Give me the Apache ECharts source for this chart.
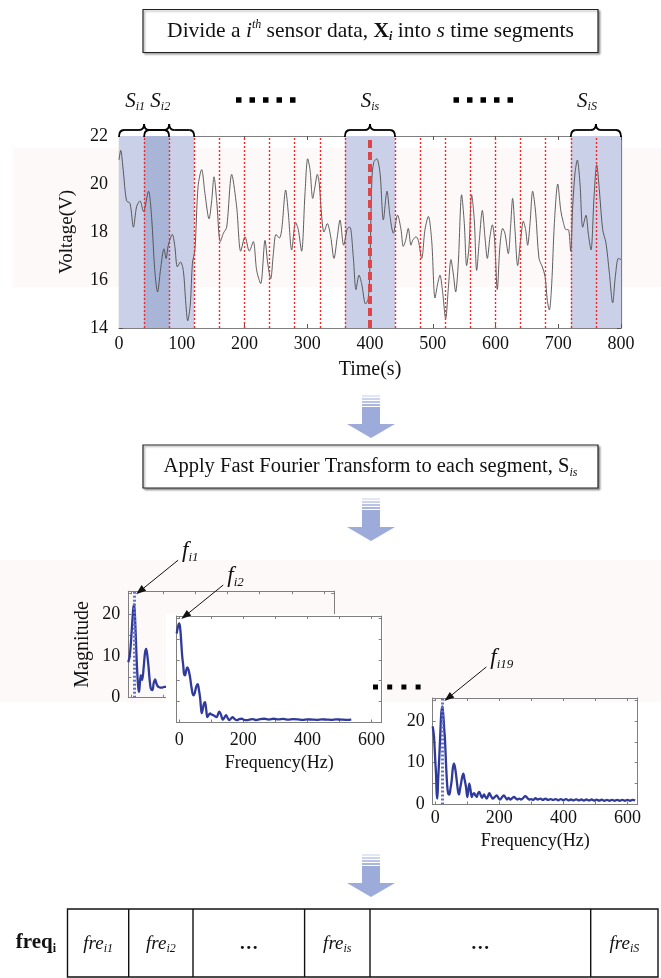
<!DOCTYPE html>
<html>
<head>
<meta charset="utf-8">
<script src="https://cdn.jsdelivr.net/npm/echarts@6/dist/echarts.min.js"></script>
<style>
  html, body { margin: 0; padding: 0; background: #ffffff; }
  #chart { width: 661px; height: 978px; }
</style>
</head>
<body>
<div id="chart"></div>
<script>
// ---- Sensor voltage trace: [time (s), voltage (V)] ----
const voltageTrace = [
  [0, 21.0], [2.7, 21.4], [7, 20.5], [12, 19.3], [17.5, 19.2], [23, 18.2], [28, 19.05], [33.5, 19.3],
  [39, 18.85], [47, 19.7], [52, 18.6], [57, 16.4], [61.5, 15.5], [66, 16.4], [71.7, 17.3], [75, 16.9],
  [78.6, 17.45], [85, 17.9], [89, 17.4], [93, 16.55], [98, 16.75], [102.5, 16.4], [106, 15.2], [109.5, 14.3],
  [113.7, 15.0], [117, 16.7], [121, 17.25], [126, 19.9], [131.7, 20.6], [137, 19.6], [143.5, 18.55], [147.7, 19.3],
  [151.4, 20.3], [155.7, 19.3], [161.5, 17.6], [166.4, 17.95], [171.6, 18.2], [179.6, 20.4], [187.5, 19.05], [194, 17.2],
  [200.8, 17.8], [207.7, 17.2], [214, 17.6], [219.4, 16.4], [225.8, 15.85], [232.7, 17.65], [237, 16.7], [241.7, 16.05],
  [246, 17.1], [250.2, 17.9], [255.5, 17.75], [259.3, 18.1], [265.6, 19.75], [269.8, 18.8], [275.2, 17.25], [281.5, 18.4],
  [285.7, 18.1], [291, 17.2], [296.4, 19.6], [300.7, 21.05], [304.4, 20.6], [308.7, 19.4], [312.4, 19.9], [316, 20.4],
  [319.2, 20.0], [323, 18.65], [326.7, 18.0], [332, 18.35], [337.4, 17.8], [342.6, 16.9], [347.9, 17.8], [352.2, 18.5],
  [358, 17.45], [364, 18.15], [368, 18.2], [373.4, 16.95], [377.7, 15.6], [382.5, 16.2], [386.7, 15.85], [393, 15.0],
  [397, 15.2], [399.5, 16.2], [403, 20.2], [406, 20.9], [410.7, 21.05], [416, 20.45], [421.3, 18.5], [427, 19.7],
  [431.9, 18.65], [437.2, 17.95], [444, 18.7], [449.4, 18.1], [453, 17.4], [456.8, 17.65], [461, 18.15], [465.3, 17.45],
  [468, 17.65], [473.3, 17.8], [477, 17.65], [482.4, 16.9], [487.6, 18.1], [493, 18.65], [498.3, 17.65], [503.6, 15.25],
  [507.9, 15.85], [511.5, 16.2], [515.3, 15.6], [520.6, 14.4], [524.8, 15.65], [529, 16.85], [532.8, 16.25], [536.5, 15.5],
  [540.7, 16.7], [546, 19.55], [550.3, 18.35], [554, 16.6], [557.8, 17.4], [562, 19.55], [566.2, 18.5], [570, 16.4],
  [574.2, 17.65], [579, 18.9], [583.3, 17.75], [587, 16.9], [591.2, 17.8], [595, 18.3], [598.5, 17.7], [602.9, 15.6],
  [607, 17.4], [611.4, 18.15], [615, 17.95], [620.4, 17.1], [624, 18.2], [627.3, 19.4], [631, 18.1], [635.3, 16.6],
  [640, 17.65], [644.3, 18.45], [648, 18.1], [651.2, 17.45], [655, 18.35], [659.2, 19.7], [664, 18.8], [669.3, 16.9],
  [674.6, 16.55], [679, 16.15], [682.6, 15.15], [685.8, 14.75], [689.6, 15.85], [693.8, 18.35], [699.2, 20.0], [704, 18.9],
  [708.1, 18.4], [712.4, 18.1], [716.1, 18.1], [719.8, 17.2], [723, 19.05], [726.7, 20.45], [730.4, 21.0], [734.7, 20.0],
  [739, 18.2], [744.2, 18.7], [748, 17.9], [752.2, 17.25], [757, 19.45], [761.3, 20.8], [765.5, 19.75], [770.8, 18.1],
  [776, 17.55], [781.4, 16.3], [786.7, 15.05], [791, 16.15], [795.8, 16.9], [800, 16.85]
];

// ---- Time segmentation ----
const segmentBoundaries = [40, 80, 120, 160, 200, 240, 280, 320, 360, 400, 440, 480, 520, 560, 600, 640, 680, 720, 760];
const focusBoundary = 400;
const highlightedSegments = [[0, 120], [360, 440], [720, 800]];
const overlapSegment = [40, 80];
const bracedSegments = [
  { range: [0, 80], sub: 'i1', align: 'right' },
  { range: [40, 120], sub: 'i2', align: 'right' },
  { range: [360, 440], sub: 'is', align: 'center' },
  { range: [720, 800], sub: 'iS', align: 'right' }
];

// ---- FFT magnitude spectra: [frequency (Hz), magnitude] ----
const spectrum1 = [
  [-8, 8.5], [-4, 9.8], [-1, 12], [3, 16.5], [7, 21], [10, 22.4], [13, 19], [17, 11], [20, 5.8], [23, 2.4],
  [25.5, 1.4], [28, 3.5], [31, 5.4], [35, 4.2], [40, 7.5], [44, 10.8], [47.5, 11.7], [51, 10.2], [55, 7.3],
  [58, 4.5], [62, 2.2], [67, 1.8], [71, 3.5], [75.5, 4.4], [79, 3.5], [83, 2.8], [88, 2.5], [96, 2.4],
  [104, 2.6], [112, 2.6]
];
const spectrum2 = [
  [-8, 21.3], [-5, 22.6], [-2, 23.5], [0, 23.7], [3, 22.5], [6, 19.5], [9, 16.0], [12.6, 13.5], [15, 11.6],
  [18, 11.3], [21.5, 12.4], [25, 13.2], [29, 12.6], [33.6, 10.9], [38, 8.5], [43.9, 6.5], [48, 7.0], [53, 8.6],
  [57.6, 9.2], [61, 8.0], [64.8, 6.1], [67.5, 3.8], [70, 2.2], [73, 3.0], [77, 4.5], [80.4, 4.9], [84, 3.2],
  [87.6, 1.3], [92, 1.8], [96, 2.2], [101, 1.9], [106.4, 1.75], [111, 1.5], [117, 1.3], [121, 2.0], [125, 2.6],
  [130, 1.9], [135.8, 0.7], [141, 1.2], [146, 1.75], [151, 1.1], [156, 0.55], [161, 0.9], [167, 1.3], [173, 0.8],
  [179.5, 0.55], [187, 0.8], [195, 0.9], [203, 0.6], [211, 0.55], [220, 0.7], [230, 0.8], [240, 0.6], [252, 0.8],
  [265, 0.9], [280, 0.7], [295, 0.9], [310, 0.75], [325, 0.85], [340, 0.7], [355, 0.8], [370, 0.75], [385, 0.65],
  [400, 0.75], [415, 0.7], [430, 0.65], [445, 0.75], [460, 0.7], [475, 0.65], [490, 0.75], [505, 0.7], [520, 0.65],
  [537, 0.7]
];
const spectrum19 = [
  [-8, 18.7], [-4, 16.3], [0, 10.5], [2.3, 7.4], [4.5, 2.5], [6.4, 1.4], [9, 6], [12.6, 11.4], [16, 17.5], [19, 22],
  [22, 23.5], [25, 21.5], [28, 18], [30.4, 15.5], [34, 9], [37.6, 4.2], [40.5, 2.6], [43.9, 2.4], [47.5, 3.8],
  [51.4, 5.8], [55, 8.8], [58.6, 9.8], [62.5, 8.5], [67, 5.8], [71, 3.2], [74.2, 2.4], [77, 3.6], [80.4, 5.0],
  [84, 6.6], [87.6, 7.4], [91, 6.2], [96, 4.2], [100, 1.8], [103, 3.2], [106.4, 5.0], [110, 3.6], [113.9, 1.8],
  [117, 2.4], [121, 2.7], [125, 2.2], [129.5, 1.8], [133, 2.6], [137.6, 3.0], [142, 2.2], [146, 1.6], [149, 2.0],
  [152.3, 2.4], [156, 1.9], [160.8, 1.4], [165, 2.1], [168.9, 2.7], [174, 2.0], [179.5, 1.4], [186, 1.8], [192, 2.2],
  [197, 1.6], [202, 1.2], [208, 1.7], [214, 2.2], [219, 1.7], [224, 1.2], [229, 1.6], [234, 1.2], [240, 1.5],
  [246, 1.8], [251, 1.5], [256, 1.2], [262, 1.4], [268, 1.2], [275, 1.6], [281, 2.0], [287, 1.6], [293, 1.2],
  [299, 1.3], [306, 1.1], [313, 1.5], [320, 1.2], [328, 1.4], [336, 1.1], [344, 1.4], [352, 1.1], [360, 1.3],
  [368, 1.1], [376, 1.3], [384, 1.0], [392, 1.3], [400, 1.0], [408, 1.3], [416, 1.0], [424, 1.2], [432, 1.0],
  [440, 1.25], [448, 1.0], [456, 1.2], [464, 0.95], [472, 1.2], [480, 1.0], [488, 1.2], [496, 0.95], [504, 1.15],
  [512, 0.95], [520, 1.15], [528, 0.9], [536, 1.1], [544, 0.9], [552, 1.1], [560, 0.9], [568, 1.1], [576, 0.9],
  [584, 1.1], [592, 0.9], [600, 1.1], [608, 0.9], [616, 1.1], [624, 1.0]
];
const spectrumLabels = ['i1', 'i2', 'i19'];
const peakFreqs = [10, 0, 22];
const freqRange = [-8, 632];
const freqLabelValues = [0, 200, 400, 600];
const freqTickValues = [0, 100, 200, 300, 400, 500, 600];
const magRange = [0, 25.5];
const magLabelValues = [0, 10, 20];
const magTickValues = [0, 5, 10, 15, 20, 25];

// ---- Output feature vector ----
const featureCells = [
  { base: 'fre', sub: 'i1' }, { base: 'fre', sub: 'i2' }, { dots: true },
  { base: 'fre', sub: 'is' }, { dots: true }, { base: 'fre', sub: 'iS' }
];

const SERIF = "'Liberation Serif', 'Times New Roman', Times, serif";
const AX = '#7f7f7f';
const INK = '#111111';

const chart = echarts.init(document.getElementById('chart'), null, { renderer: 'canvas', width: 661, height: 978 });

function timeAxes() {
  const line = { show: true, onZero: false, lineStyle: { color: AX, width: 1.2 } };
  const tick = { show: true, inside: true, length: 4, lineStyle: { color: '#555' } };
  return {
    x: [
      { type: 'value', gridIndex: 0, position: 'bottom', min: 0, max: 800, interval: 100,
        axisLine: line, axisTick: tick, splitLine: { show: false },
        axisLabel: { fontFamily: SERIF, fontSize: 18, color: INK, margin: 7 },
        name: 'Time(s)', nameLocation: 'middle', nameGap: 32,
        nameTextStyle: { fontFamily: SERIF, fontSize: 20, color: INK } },
      { type: 'value', gridIndex: 0, position: 'top', min: 0, max: 800, interval: 100,
        axisLine: line, axisTick: tick, splitLine: { show: false }, axisLabel: { show: false } }
    ],
    y: [
      { type: 'value', gridIndex: 0, position: 'left', min: 14, max: 22, interval: 2,
        axisLine: line, axisTick: tick, splitLine: { show: false },
        axisLabel: { fontFamily: SERIF, fontSize: 18, color: INK, margin: 11 },
        name: 'Voltage(V)', nameLocation: 'middle', nameGap: 42, nameRotate: 90,
        nameTextStyle: { fontFamily: SERIF, fontSize: 19, color: INK } },
      { type: 'value', gridIndex: 0, position: 'right', min: 14, max: 22, interval: 2,
        axisLine: line, axisTick: tick, splitLine: { show: false }, axisLabel: { show: false } }
    ]
  };
}

function spectrumAxes(gridIndex, cfg) {
  const line = { show: true, onZero: false, lineStyle: { color: AX, width: 1 } };
  const z = cfg.z || 0;
  const xBase = { type: 'value', gridIndex, min: freqRange[0], max: freqRange[1], z,
    axisLine: line, splitLine: { show: false },
    axisTick: { show: true, inside: true, length: 3, customValues: freqTickValues, lineStyle: { color: AX } } };
  const yBase = { type: 'value', gridIndex, min: magRange[0], max: magRange[1], z,
    axisLine: line, splitLine: { show: false },
    axisTick: { show: true, inside: true, length: 3, customValues: magTickValues, lineStyle: { color: AX } } };
  return {
    x: [
      Object.assign({}, xBase, { position: 'bottom',
        axisLabel: { show: cfg.xLabels, customValues: freqLabelValues, fontFamily: SERIF, fontSize: 18, color: INK, margin: cfg.xMargin },
        name: cfg.xLabels ? 'Frequency(Hz)' : '', nameLocation: 'middle', nameGap: cfg.xNameGap,
        nameTextStyle: { fontFamily: SERIF, fontSize: 18, color: INK } }),
      Object.assign({}, xBase, { position: 'top', axisLabel: { show: false } })
    ],
    y: [
      Object.assign({}, yBase, { position: 'left',
        axisLabel: { show: cfg.yLabels, customValues: magLabelValues, fontFamily: SERIF, fontSize: 18, color: INK, margin: 8 },
        name: cfg.yName || '', nameLocation: 'middle', nameGap: 36, nameRotate: 90,
        nameTextStyle: { fontFamily: SERIF, fontSize: 20, color: INK } }),
      Object.assign({}, yBase, { position: 'right', axisLabel: { show: false } })
    ]
  };
}

const tAx = timeAxes();
const s1Ax = spectrumAxes(1, { xLabels: false, yLabels: true, yName: 'Magnitude', xMargin: 6, xNameGap: 30 });
const s2Ax = spectrumAxes(2, { xLabels: true, yLabels: false, xMargin: 9, xNameGap: 32, z: 6 });
const s3Ax = spectrumAxes(3, { xLabels: true, yLabels: true, xMargin: 5, xNameGap: 28 });

function peakMarks(freq) {
  return {
    silent: true, symbol: ['none', 'none'], label: { show: false },
    lineStyle: { type: [2, 2], width: 1 },
    data: [
      { xAxis: freq - 3, lineStyle: { color: '#ff3b3b', type: [2, 2], width: 1 } },
      { xAxis: freq, lineStyle: { color: '#6475d6', type: [2, 2], width: 1 } },
      { xAxis: freq + 3, lineStyle: { color: '#ff3b3b', type: [2, 2], width: 1 } }
    ]
  };
}

function spectrumSeries(data, axisIndex, peak, z) {
  return {
    type: 'line', xAxisIndex: axisIndex, yAxisIndex: axisIndex, data, z,
    symbol: 'none', smooth: 0.35, silent: true,
    lineStyle: { color: '#2f3a9a', width: 2.3 },
    markLine: peakMarks(peak)
  };
}

const option = {
  animation: false,
  backgroundColor: '#ffffff',
  grid: [
    { left: 119, top: 136, width: 502, height: 192, outerBoundsMode: 'none' },
    { left: 128.3, top: 591.2, width: 206, height: 106.5, outerBoundsMode: 'none' },
    { left: 176.7, top: 616, width: 205, height: 106.5, outerBoundsMode: 'none' },
    { left: 432.7, top: 698, width: 205, height: 106.5, outerBoundsMode: 'none' }
  ],
  xAxis: [].concat(tAx.x, s1Ax.x, s2Ax.x, s3Ax.x),
  yAxis: [].concat(tAx.y, s1Ax.y, s2Ax.y, s3Ax.y),
  series: [
    { // shaded segments
      type: 'line', xAxisIndex: 0, yAxisIndex: 0, data: voltageTrace, z: 1, silent: true,
      symbol: 'none', lineStyle: { opacity: 0 },
      markArea: {
        silent: true, itemStyle: { color: '#c9d0e7' },
        data: highlightedSegments.map(r => [{ xAxis: r[0] }, { xAxis: r[1] }]).concat([
          [{ xAxis: overlapSegment[0], itemStyle: { color: '#a8b5d7' } }, { xAxis: overlapSegment[1] }]
        ])
      }
    },
    { // voltage trace
      type: 'line', xAxisIndex: 0, yAxisIndex: 0, data: voltageTrace, z: 2, silent: true,
      symbol: 'none', smooth: 0.3, lineStyle: { color: '#4d4d4d', width: 0.9 }
    },
    { // segment boundaries
      type: 'line', xAxisIndex: 0, yAxisIndex: 0, data: voltageTrace, z: 3, silent: true,
      symbol: 'none', lineStyle: { opacity: 0 },
      markLine: {
        silent: true, symbol: ['none', 'none'], label: { show: false },
        data: segmentBoundaries.map(v => v === focusBoundary
          ? { xAxis: v, lineStyle: { color: '#de4547', width: 4, type: [8, 4] } }
          : { xAxis: v, lineStyle: { color: '#ff2424', width: 1.4, type: [2, 2] } })
      }
    },
    spectrumSeries(spectrum1, 2, peakFreqs[0], 2),
    spectrumSeries(spectrum2, 4, peakFreqs[1], 7),
    spectrumSeries(spectrum19, 6, peakFreqs[2], 2)
  ]
};
chart.setOption(option);

// ---------- annotations ----------
const g = [];

// faint tinted bands behind the plots
g.push({ type: 'rect', z: -1, shape: { x: 13, y: 148, width: 648, height: 139 }, style: { fill: '#fdf9f9' } });
g.push({ type: 'rect', z: -1, shape: { x: 0, y: 560, width: 661, height: 142 }, style: { fill: '#fdf9f9' } });

// white panel of the second spectrum, laid over the first one
g.push({ type: 'rect', z: 5, shape: { x: 166, y: 614, width: 218, height: 160 }, style: { fill: '#ffffff' } });

function textBox(x, y, w, h) {
  return { type: 'rect', z: 10, shape: { x, y, width: w, height: h },
    style: { fill: '#ffffff', stroke: '#222', lineWidth: 1.2, shadowBlur: 2, shadowOffsetX: 1.5, shadowOffsetY: 1.5, shadowColor: 'rgba(0,0,0,0.35)' } };
}
function stepRich(size) {
  return {
    n: { fontFamily: SERIF, fontSize: size, fill: INK, color: INK, lineHeight: 24 },
    it: { fontFamily: SERIF, fontSize: size, fontStyle: 'italic', fill: INK, color: INK, lineHeight: 24 },
    b: { fontFamily: SERIF, fontSize: size, fontWeight: 'bold', fill: INK, color: INK, lineHeight: 24 },
    sup: { fontFamily: SERIF, fontSize: 12, fontStyle: 'italic', fill: INK, color: INK, lineHeight: 12, verticalAlign: 'top' },
    sub: { fontFamily: SERIF, fontSize: 12, fontStyle: 'italic', fill: INK, color: INK, lineHeight: 12, verticalAlign: 'bottom' },
    bsub: { fontFamily: SERIF, fontSize: 12, fontStyle: 'italic', fontWeight: 'bold', fill: INK, color: INK, lineHeight: 12, verticalAlign: 'bottom' }
  };
}
function richText(x, y, text, rich, align) {
  return { type: 'text', z: 11, x, y,
    style: { text, rich, align: align || 'center', verticalAlign: 'middle',
      textAlign: align || 'center', textVerticalAlign: 'middle' } };
}

// step boxes
g.push(textBox(143, 9.5, 455, 43));
g.push(richText(370.5, 31, '{n|Divide a }{it|i}{sup|th}{n| sensor data, }{b|X}{bsub|i}{n| into }{it|s}{n| time segments}', stepRich(21.5)));
g.push(textBox(143, 445, 455, 43));
g.push(richText(370.5, 466.5, '{n|Apply Fast Fourier Transform to each segment, S}{sub|is}', stepRich(20.5)));

// flow arrows
function flowArrow(cx, y0) {
  const els = [];
  const stripes = ['#e2e6f5', '#cdd3ee', '#bac3e7', '#aab5e0'];
  stripes.forEach((c, i) => els.push({ type: 'rect', z: 10, shape: { x: cx - 9, y: y0 + i * 3, width: 18, height: 2 }, style: { fill: c } }));
  els.push({ type: 'rect', z: 10, shape: { x: cx - 9, y: y0 + 12, width: 18, height: 17 }, style: { fill: '#9dabdb' } });
  els.push({ type: 'polygon', z: 10, shape: { points: [[cx - 24, y0 + 29], [cx + 24, y0 + 29], [cx, y0 + 43]] }, style: { fill: '#9dabdb' } });
  return els;
}
g.push(...flowArrow(371, 395));
g.push(...flowArrow(371, 498));
g.push(...flowArrow(371, 854));

// braces and segment labels above the trace
const px = (t, v) => chart.convertToPixel({ seriesIndex: 1 }, [t, v]);
const topY = px(0, 22)[1];
const sRich = {
  S: { fontFamily: SERIF, fontSize: 21, fontStyle: 'italic', fill: INK, lineHeight: 24 },
  sub: { fontFamily: SERIF, fontSize: 12, fontStyle: 'italic', fill: INK, lineHeight: 12, verticalAlign: 'bottom' }
};
const braceStyle = { stroke: '#000', lineWidth: 1.8, fill: null };
function curve(x1, y1, cx, cy, x2, y2) {
  return { type: 'bezierCurve', z: 12, shape: { x1, y1, x2, y2, cpx1: cx, cpy1: cy }, style: braceStyle };
}
function seg(x1, y1, x2, y2) {
  return { type: 'line', z: 12, shape: { x1, y1, x2, y2 }, style: braceStyle };
}
bracedSegments.forEach(s => {
  const x0 = px(s.range[0], 22)[0], x1 = px(s.range[1], 22)[0];
  const xm = (x0 + x1) / 2, yb = topY + 1, ym = topY - 6, yt = topY - 12, r = 5;
  g.push(curve(x0, yb, x0, ym, x0 + r, ym));
  g.push(seg(x0 + r, ym, xm - r, ym));
  g.push(curve(xm - r, ym, xm, ym, xm, yt));
  g.push(curve(xm, yt, xm, ym, xm + r, ym));
  g.push(seg(xm + r, ym, x1 - r, ym));
  g.push(curve(x1 - r, ym, x1, ym, x1, yb));
  const lx = s.align === 'right' ? xm + 1 : xm;
  g.push(richText(lx, topY - 35, `{S|S}{sub|${s.sub}}`, sRich, s.align));
});

// dotted ellipses between segment labels
function dotRow(x0, y, n, pitch, size) {
  const els = [];
  for (let i = 0; i < n; i++) els.push({ type: 'rect', z: 12, shape: { x: x0 + i * pitch, y: y - size / 2, width: size, height: size }, style: { fill: '#000' } });
  return els;
}
g.push(...dotRow(236, 100, 5, 13.5, 5.5));
g.push(...dotRow(453.5, 100, 5, 13.5, 5.5));
g.push(...dotRow(373, 687, 4, 14.2, 5));

// peak frequency call-outs
function pointer(x0, y0, x1, y1) {
  const dx = x1 - x0, dy = y1 - y0, len = Math.hypot(dx, dy);
  const ux = dx / len, uy = dy / len, hl = 10, hw = 3.6;
  const bx = x1 - ux * hl, by = y1 - uy * hl;
  return [
    { type: 'line', z: 20, shape: { x1: x0, y1: y0, x2: bx, y2: by }, style: { stroke: '#111', lineWidth: 1 } },
    { type: 'polygon', z: 20, shape: { points: [[x1, y1], [bx - uy * hw, by + ux * hw], [bx + uy * hw, by - ux * hw]] }, style: { fill: '#111' } }
  ];
}
const fRich = {
  f: { fontFamily: SERIF, fontSize: 23, fontStyle: 'italic', fill: INK, lineHeight: 26 },
  sub: { fontFamily: SERIF, fontSize: 13, fontStyle: 'italic', fill: INK, lineHeight: 13, verticalAlign: 'bottom' }
};
[3, 4, 5].forEach((si, k) => {
  const p = chart.convertToPixel({ seriesIndex: si }, [peakFreqs[k], magRange[1]]);
  const tip = [p[0] + 2, p[1] + 3];
  g.push(...pointer(tip[0] + 42, tip[1] - 34, tip[0], tip[1]));
  g.push(richText(tip[0] + 46, tip[1] - 43, `{f|f}{sub|${spectrumLabels[k]}}`, fRich, 'left'));
});

// resulting frequency feature vector
const cellEdges = [67.5, 128.7, 193, 304.6, 370, 590.7, 658];
const tableTop = 909, tableBottom = 977;
g.push({ type: 'rect', z: 10, shape: { x: cellEdges[0], y: tableTop, width: cellEdges[6] - cellEdges[0], height: tableBottom - tableTop },
  style: { fill: '#fff', stroke: '#111', lineWidth: 1.4 } });
for (let i = 1; i < cellEdges.length - 1; i++) {
  g.push({ type: 'line', z: 11, shape: { x1: cellEdges[i], y1: tableTop, x2: cellEdges[i], y2: tableBottom }, style: { stroke: '#111', lineWidth: 1.4 } });
}
const cellRich = {
  it: { fontFamily: SERIF, fontSize: 19, fontStyle: 'italic', fill: INK, lineHeight: 22 },
  sub: { fontFamily: SERIF, fontSize: 12, fontStyle: 'italic', fill: INK, lineHeight: 12, verticalAlign: 'bottom' },
  d: { fontFamily: SERIF, fontSize: 19, fontWeight: 'bold', fill: INK, lineHeight: 22 }
};
const rowY = (tableTop + tableBottom) / 2 + 1;
featureCells.forEach((c, i) => {
  const cx = (cellEdges[i] + cellEdges[i + 1]) / 2;
  g.push(richText(cx, rowY, c.dots ? '{d|…}' : `{it|${c.base}}{sub|${c.sub}}`, cellRich));
});
g.push(richText(36, rowY - 1, '{b|freq}{s|i}', {
  b: { fontFamily: SERIF, fontSize: 21, fontWeight: 'bold', fill: INK, lineHeight: 24 },
  s: { fontFamily: SERIF, fontSize: 12, fontWeight: 'bold', fill: INK, lineHeight: 12, verticalAlign: 'bottom' }
}));

chart.setOption({ graphic: { elements: g } });
</script>
</body>
</html>
